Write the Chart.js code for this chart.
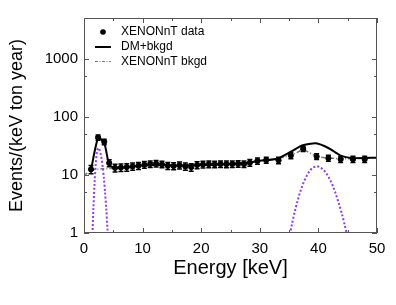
<!DOCTYPE html>
<html>
<head>
<meta charset="utf-8">
<script src="https://cdn.jsdelivr.net/npm/chart.js@4.4.1/dist/chart.umd.min.js"></script>
<style>
  body { margin: 0; background: #fff; }
  #wrap { width: 396px; height: 305px; }
</style>
</head>
<body>
<div id="wrap"><canvas id="spectrum"></canvas></div>
<script>
// XENONnT data points
const energy = [1.2, 2.4, 3.45, 4.3, 5.3, 6.3, 7.3, 8.3, 9.3, 10.3, 11.3, 12.3, 13.3, 14.3, 15.3, 16.3, 17.3, 18.3, 19.3, 20.3,
  21.3, 22.3, 23.3, 24.3, 25.3, 26.3, 27.3, 28.3, 29.6, 31.1, 33.2, 35.3, 37.4, 39.7, 41.7, 43.8, 45.9, 47.9];
const counts = [12.5, 44, 37, 16, 13.2, 13.4, 13.6, 14.0, 14.4, 15.0, 15.4, 15.6, 15.2, 14.4, 14.2, 14.6, 14.0, 13.6, 14.8, 15.1,
  15.3, 15.2, 15.4, 15.3, 15.4, 15.5, 15.4, 16.2, 17.4, 18.0, 17.8, 21.5, 28.0, 20.7, 19.4, 18.6, 18.6, 18.6];
const countErr = [2, 4.5, 4, 2.2, 2, 2, 2, 2, 2, 2, 2, 2, 2, 2, 2, 2, 2, 2, 2, 2,
  2, 2, 2, 2, 2, 2, 2, 2.1, 2.2, 2.2, 2.3, 2.5, 2.8, 2.4, 2.3, 2.3, 2.3, 2.3];

// DM + background model
const fitE = [1.2, 2.4, 3.45, 4.3, 5.4, 7, 10, 12, 16, 20, 24, 28, 30, 33, 35.3, 37.2, 39.6, 41.7, 43.8, 45.9, 47.9, 50];
const fitV = [12.3, 43, 36, 15, 13, 13.5, 14.5, 14.8, 14.5, 14.8, 15.2, 16.2, 17.5, 19, 25, 32, 35, 29, 21.5, 19.5, 19.5, 19.8];

// XENONnT background model
const bkgE = [0, 0.5, 1, 1.6, 2, 3, 4, 5, 6, 8, 10, 12, 14, 16, 18, 20, 22, 24, 26, 28, 30, 32, 34, 35.3, 37.4, 39.7, 41.7, 44, 46, 48, 50];
const bkgV = [9.8, 10.6, 11.5, 12.2, 12.5, 12.7, 12.8, 12.9, 13.2, 13.8, 14.5, 14.8, 14.6, 14.5, 14.6, 14.8, 15, 15.2, 15.5, 16.2, 17.5, 18.6, 20, 21.5, 27.5, 20.7, 19.4, 19, 19, 19.2, 19.8];

// DM signal (two bumps, null = gap)
const sigE = [1.4, 1.6, 1.8, 2.0, 2.2, 2.4, 2.6, 2.8, 3.0, 3.2, 3.4, 3.6, 3.8, 4.0, 4.2, 20,
  35.0, 35.5, 36.0, 36.5, 37.0, 37.5, 38.0, 38.5, 39.0, 39.5, 39.7, 40.0, 40.5, 41.0, 41.5, 42.0, 42.5, 43.0, 43.5, 44.0, 44.5, 45.0, 45.5];
const sigV = [0.7, 2.6, 7.3, 15.4, 24.3, 29, 27.7, 24, 18.8, 13.4, 8.6, 4.9, 2.6, 1.2, 0.52, null,
  0.81, 1.44, 2.4, 3.74, 5.5, 7.5, 9.6, 11.6, 13.2, 13.9, 14, 13.9, 13.1, 11.8, 10.1, 8.2, 6.3, 4.6, 3.2, 2.15, 1.36, 0.81, 0.46];

const xTicks = [0, 10, 20, 30, 40, 50];
const xMinor = [5, 15, 25, 35, 45];
const yTicks = [1, 10, 100, 1000];
const yMinor = [5, 50, 500];

const FONT = "'Liberation Sans', Arial, Helvetica, sans-serif";
const pts = (xs, ys) => xs.map((x, i) => ({x: x, y: ys[i]}));

const frameTicks = {
  id: 'frameTicks',
  afterDatasetsDraw(chart) {
    const {ctx, chartArea: a, scales: {x, y}} = chart;
    ctx.save();
    // error bars
    ctx.strokeStyle = '#000';
    ctx.lineWidth = 1.5;
    energy.forEach((e, i) => {
      const px = x.getPixelForValue(e);
      const y1 = y.getPixelForValue(counts[i] + countErr[i]);
      const y2 = y.getPixelForValue(counts[i] - countErr[i]);
      ctx.beginPath();
      ctx.moveTo(px, y1); ctx.lineTo(px, y2);
      ctx.moveTo(px - 2.5, y1); ctx.lineTo(px + 2.5, y1);
      ctx.moveTo(px - 2.5, y2); ctx.lineTo(px + 2.5, y2);
      ctx.stroke();
    });
    // frame
    ctx.strokeStyle = '#555';
    ctx.lineWidth = 1;
    ctx.strokeRect(a.left + 0.5, a.top + 0.5, a.right - a.left - 1, a.bottom - a.top - 1);
    ctx.beginPath();
    const tickX = (v, len) => {
      const p = Math.round(x.getPixelForValue(v)) + 0.5;
      ctx.moveTo(p, a.bottom); ctx.lineTo(p, a.bottom - len);
      ctx.moveTo(p, a.top); ctx.lineTo(p, a.top + len);
    };
    const tickY = (v, len) => {
      const p = Math.round(y.getPixelForValue(v)) + 0.5;
      ctx.moveTo(a.left, p); ctx.lineTo(a.left + len, p);
      ctx.moveTo(a.right, p); ctx.lineTo(a.right - len, p);
    };
    xTicks.forEach(v => tickX(v, 5));
    xMinor.forEach(v => tickX(v, 3));
    yTicks.forEach(v => tickY(v, 5));
    yMinor.forEach(v => tickY(v, 3));
    ctx.stroke();
    ctx.restore();
  },
  afterDraw(chart) {
    // legend inside plot area
    const {ctx, chartArea: a} = chart;
    const ds = chart.data.datasets;
    ctx.save();
    ctx.font = '12px ' + FONT;
    ctx.fillStyle = '#000';
    ctx.textBaseline = 'middle';
    const rows = [32, 47, 61.5];
    const x0 = a.left + 11, x1 = a.left + 27, tx = a.left + 37;
    // data dot
    ctx.beginPath();
    ctx.arc((x0 + x1) / 2, rows[0], 2.8, 0, Math.PI * 2);
    ctx.fill();
    ctx.fillText(ds[0].label, tx, rows[0]);
    // solid
    ctx.strokeStyle = '#000';
    ctx.lineWidth = 2;
    ctx.beginPath(); ctx.moveTo(x0, rows[1]); ctx.lineTo(x1, rows[1]); ctx.stroke();
    ctx.fillText(ds[1].label, tx, rows[1]);
    // dash-dot
    ctx.strokeStyle = '#777';
    ctx.lineWidth = 1;
    ctx.setLineDash([3, 1.5, 1, 1.5]);
    ctx.beginPath(); ctx.moveTo(x0, rows[2]); ctx.lineTo(x1, rows[2]); ctx.stroke();
    ctx.setLineDash([]);
    ctx.fillText(ds[2].label, tx, rows[2]);
    ctx.restore();
  }
};

const chart = new Chart(document.getElementById('spectrum').getContext('2d'), {
  type: 'line',
  data: {
    datasets: [
      {
        label: 'XENONnT data',
        data: pts(energy, counts),
        showLine: false,
        pointRadius: 2.6,
        pointBackgroundColor: '#000',
        pointBorderColor: '#000',
        order: 0
      },
      {
        label: 'DM+bkgd',
        data: pts(fitE, fitV),
        borderColor: '#000',
        borderWidth: 2,
        pointRadius: 0,
        tension: 0.2,
        order: 1
      },
      {
        label: 'XENONnT bkgd',
        data: pts(bkgE, bkgV),
        borderColor: '#777',
        borderWidth: 1.5,
        borderDash: [4, 2, 1, 2],
        pointRadius: 0,
        order: 2
      },
      {
        label: 'DM',
        data: pts(sigE, sigV),
        borderColor: '#8a3ff5',
        borderWidth: 2,
        borderDash: [2, 2],
        pointRadius: 0,
        spanGaps: false,
        tension: 0.3,
        order: 3
      }
    ]
  },
  options: {
    responsive: true,
    maintainAspectRatio: false,
    animation: false,
    devicePixelRatio: 1,
    layout: { padding: { left: 0, top: 18, right: 19, bottom: 0 } },
    plugins: { legend: { display: false }, tooltip: { enabled: false } },
    scales: {
      x: {
        type: 'linear',
        min: 0,
        max: 50,
        grid: { display: false, drawTicks: false },
        border: { display: false },
        ticks: {
          stepSize: 10,
          padding: 7,
          color: '#000',
          font: { family: FONT, size: 15 }
        },
        title: {
          display: true,
          text: 'Energy [keV]',
          color: '#000',
          font: { family: FONT, size: 20 },
          padding: { top: 0, bottom: 25 }
        },
        afterFit: (s) => { s.height = 72; }
      },
      y: {
        type: 'logarithmic',
        min: 1,
        max: 5000,
        grid: { display: false, drawTicks: false },
        border: { display: false },
        afterBuildTicks: (s) => { s.ticks = yTicks.map(v => ({value: v})); },
        ticks: {
          padding: 6,
          color: '#000',
          font: { family: FONT, size: 15 },
          callback: (v) => String(v)
        },
        title: {
          display: true,
          text: 'Events/(keV ton year)',
          color: '#000',
          font: { family: FONT, size: 18 },
          padding: { top: 6, bottom: 0 }
        },
        afterFit: (s) => { s.width = 84; }
      }
    }
  },
  plugins: [frameTicks]
});
</script>
</body>
</html>
